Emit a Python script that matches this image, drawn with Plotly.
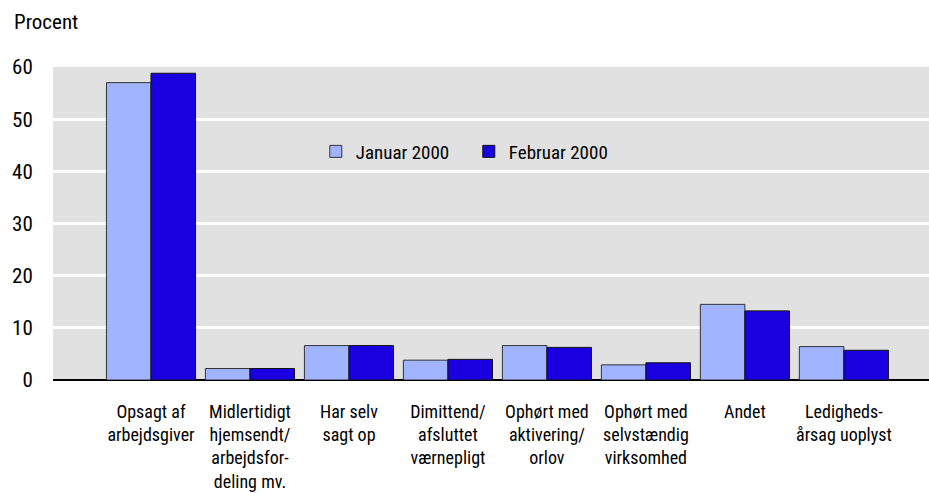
import plotly.graph_objects as go

categories = [
    "Opsagt af<br>arbejdsgiver",
    "Midlertidigt<br>hjemsendt/<br>arbejdsfor-<br>deling mv.",
    "Har selv<br>sagt op",
    "Dimittend/<br>afsluttet<br>værnepligt",
    "Ophørt med<br>aktivering/<br>orlov",
    "Ophørt med<br>selvstændig<br>virksomhed",
    "Andet",
    "Ledigheds-<br>årsag uoplyst",
]
januar_2000 = [57.0, 2.2, 6.6, 3.8, 6.6, 2.9, 14.5, 6.4]
februar_2000 = [58.8, 2.2, 6.6, 3.95, 6.25, 3.3, 13.25, 5.7]
y_ticks = [0, 10, 20, 30, 40, 50, 60]

FONT = "Liberation Sans Narrow, Arial Narrow, Roboto Condensed, Liberation Sans, Arial, sans-serif"

fig = go.Figure()
fig.add_trace(go.Bar(
    name="Januar 2000", x=list(range(len(categories))), y=januar_2000,
    marker=dict(color="#a0b4ff", line=dict(color="#333333", width=1)),
))
fig.add_trace(go.Bar(
    name="Februar 2000", x=list(range(len(categories))), y=februar_2000,
    marker=dict(color="#1a00e0", line=dict(color="#111111", width=1)),
))

fig.update_layout(
    width=929, height=493,
    margin=dict(l=53, r=0, t=67, b=113),
    paper_bgcolor="white", plot_bgcolor="#e1e1e1",
    barmode="group", bargap=0.1, bargroupgap=0,
    font=dict(family=FONT, size=19, color="black"),
    legend=dict(orientation="h", x=0.3, y=0.73, xanchor="left", yanchor="middle",
                bgcolor="rgba(0,0,0,0)", font=dict(size=19), itemwidth=30,
                entrywidth=108, entrywidthmode="pixels",
                traceorder="normal"),
    xaxis=dict(
        tickmode="array", tickvals=list(range(len(categories))), ticktext=categories,
        range=[-0.99, 7.86], showgrid=False, zeroline=False, automargin=False,
        ticks="outside", ticklen=15, tickcolor="rgba(0,0,0,0)",
        tickfont=dict(size=18), showline=False,
    ),
    yaxis=dict(
        range=[0, 60], tickvals=y_ticks, showgrid=True, gridcolor="white", gridwidth=2.5,
        zeroline=True, zerolinecolor="black", zerolinewidth=1.5, automargin=False,
        ticks="outside", ticklen=15, tickcolor="rgba(0,0,0,0)",
        tickfont=dict(size=21),
    ),
    annotations=[
        dict(text="Procent", xref="paper", yref="paper", x=-0.0468, y=1.144,
             xanchor="left", yanchor="middle", showarrow=False, font=dict(size=21)),
    ],
)

fig.write_html(
    "out.html",
    config={"displayModeBar": False},
    post_script="document.body.style.margin='0';document.body.style.overflow='hidden';",
)
